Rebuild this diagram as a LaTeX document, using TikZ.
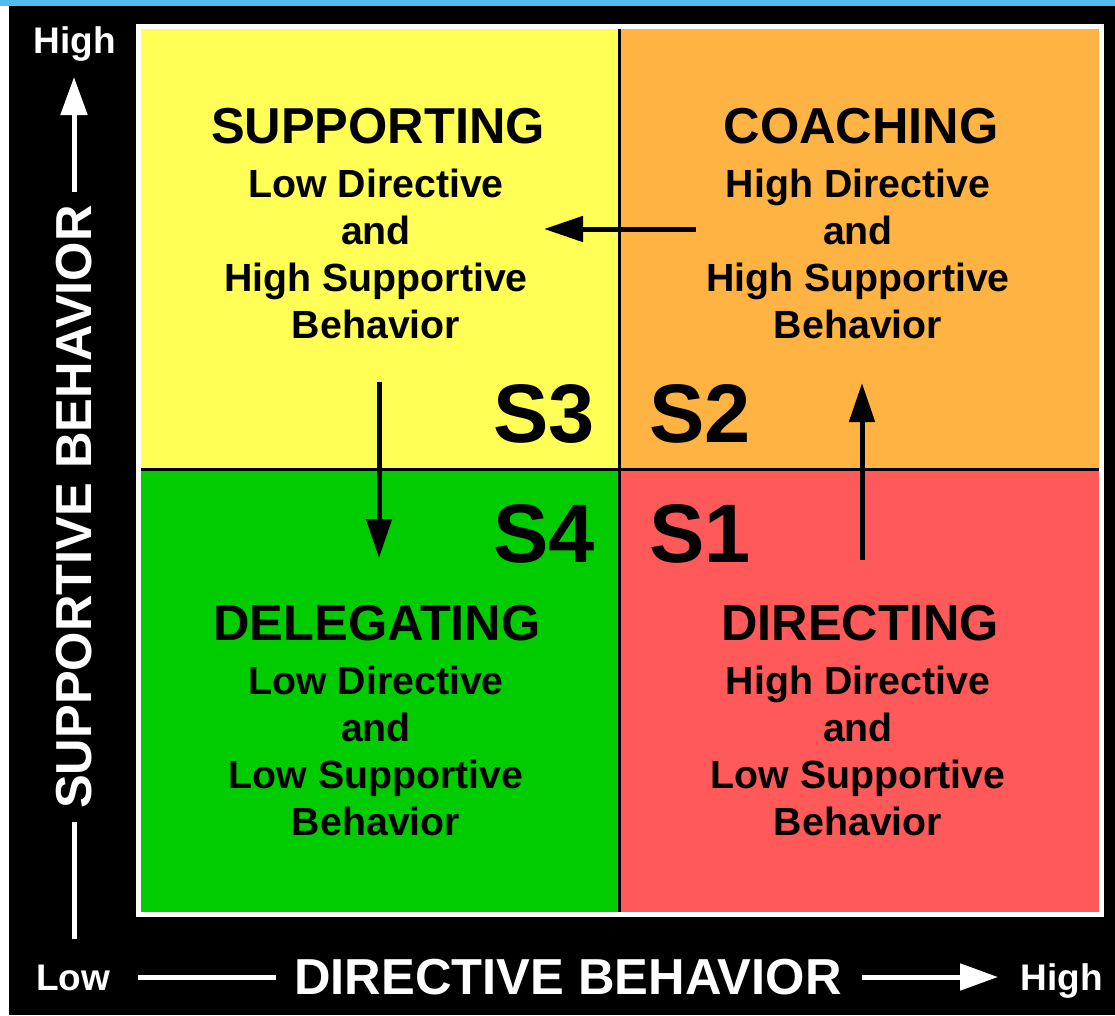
\documentclass[tikz,border=0pt]{standalone}
\usepackage{fontspec}
\setmainfont{Liberation Sans}
\usetikzlibrary{arrows.meta}
\definecolor{supyellow}{RGB}{255,255,85}
\definecolor{coachorange}{RGB}{255,179,66}
\definecolor{delgreen}{RGB}{0,204,0}
\definecolor{dirred}{RGB}{255,89,89}
\definecolor{topblue}{RGB}{85,187,238}
\def\fsize#1{\fontsize{#1}{#1}\selectfont\bfseries}

\begin{document}
\begin{tikzpicture}[x=1pt, y=-1pt,
	title/.style={anchor=base, inner sep=0pt, font={\fsize{50.5}}},
	body/.style={anchor=base, inner sep=0pt, font={\fsize{39.3}}},
	slabel/.style={inner sep=0pt, font={\fsize{83}}},
	axislabel/.style={anchor=base, inner sep=0pt, text=white, font={\fsize{50.6}}},
	endlabel/.style={anchor=base, inner sep=0pt, text=white, font={\fsize{37}}},
	flow/.style={line width=5pt, -{Triangle[length=39pt,width=25pt]}},
	axisline/.style={white, line width=5pt},
	axisarrow/.style={white, line width=5pt, -{Triangle[length=38pt,width=26pt]}}]
			%%%%% START %%%%%
			
			\useasboundingbox (0, 0) rectangle (1115, 1015);
			\fill[white] (0, 0) rectangle (1115, 1015);
			\fill[black] (9, 0) rectangle (1115, 1015);
			\fill[topblue] (0, 0) rectangle (1115, 6);
			
			% the four quadrants
			\fill[supyellow] (141, 29) rectangle (619, 469);
			\fill[coachorange] (619, 29) rectangle (1099, 469);
			\fill[delgreen] (141, 469) rectangle (619, 912);
			\fill[dirred] (619, 469) rectangle (1099, 912);
			\draw[white, line width=5pt] (138.5, 26.5) rectangle (1101.5, 914.5);
			\draw[line width=3pt] (619, 29) -- (619, 912);
			\draw[line width=3pt] (141, 469) -- (1099, 469);
			
			% quadrant texts
			\node[title] (sup-title) at (378, 143) {SUPPORTING};
			\foreach \txt [count=\i] in {Low Directive, and, High Supportive, Behavior}
				\node[body] (sup-\i) at (376, 150+47*\i) {\txt};
			
			\node[title] (coach-title) at (861, 143) {COACHING};
			\foreach \txt [count=\i] in {High Directive, and, High Supportive, Behavior}
				\node[body] (coach-\i) at (858, 150+47*\i) {\txt};
			
			\node[title] (del-title) at (377, 640) {DELEGATING};
			\foreach \txt [count=\i] in {Low Directive, and, Low Supportive, Behavior}
				\node[body] (del-\i) at (376, 647+47*\i) {\txt};
			
			\node[title] (dir-title) at (860, 640) {DIRECTING};
			\foreach \txt [count=\i] in {High Directive, and, Low Supportive, Behavior}
				\node[body] (dir-\i) at (858, 647+47*\i) {\txt};
			
			\node[slabel, anchor=base east] (s3) at (595, 442) {S3};
			\node[slabel, anchor=base west] (s2) at (649, 442) {S2};
			\node[slabel, anchor=base east] (s4) at (595, 562) {S4};
			\node[slabel, anchor=base west] (s1) at (649, 562) {S1};
			
			% development cycle S1 -> S2 -> S3 -> S4
			\coordinate (s1-from) at (862, 560);
			\coordinate (s2-to) at (862, 383);
			\coordinate (s2-from) at (696, 229);
			\coordinate (s3-to) at (544, 229);
			\coordinate (s3-from) at (379, 382);
			\coordinate (s4-to) at (379, 558);
			\draw[flow] (s1-from) -- (s2-to);
			\draw[flow] (s2-from) -- (s3-to);
			\draw[flow] (s3-from) -- (s4-to);
			
			% supportive axis
			\node[endlabel] (sup-high) at (75, 53) {High};
			\node[axislabel, rotate=90] (sup-axis) at (91, 507) {SUPPORTIVE BEHAVIOR};
			\node[endlabel] (sup-low) at (73, 990) {Low};
			\coordinate (sup-a) at (74, 939);
			\coordinate (sup-b) at (74, 822);
			\coordinate (sup-c) at (74, 192);
			\coordinate (sup-d) at (74, 77);
			\draw[axisline] (sup-a) -- (sup-b);
			\draw[axisarrow] (sup-c) -- (sup-d);
			
			% directive axis
			\node[axislabel] (dir-axis) at (568, 994) {DIRECTIVE BEHAVIOR};
			\node[endlabel] (dir-high) at (1062, 990) {High};
			\coordinate (dir-a) at (138, 977);
			\coordinate (dir-b) at (276, 977);
			\coordinate (dir-c) at (862, 977);
			\coordinate (dir-d) at (998, 977);
			\draw[axisline] (dir-a) -- (dir-b);
			\draw[axisarrow] (dir-c) -- (dir-d);
			
			%%%%% END %%%%%
\end{tikzpicture}
\end{document}
